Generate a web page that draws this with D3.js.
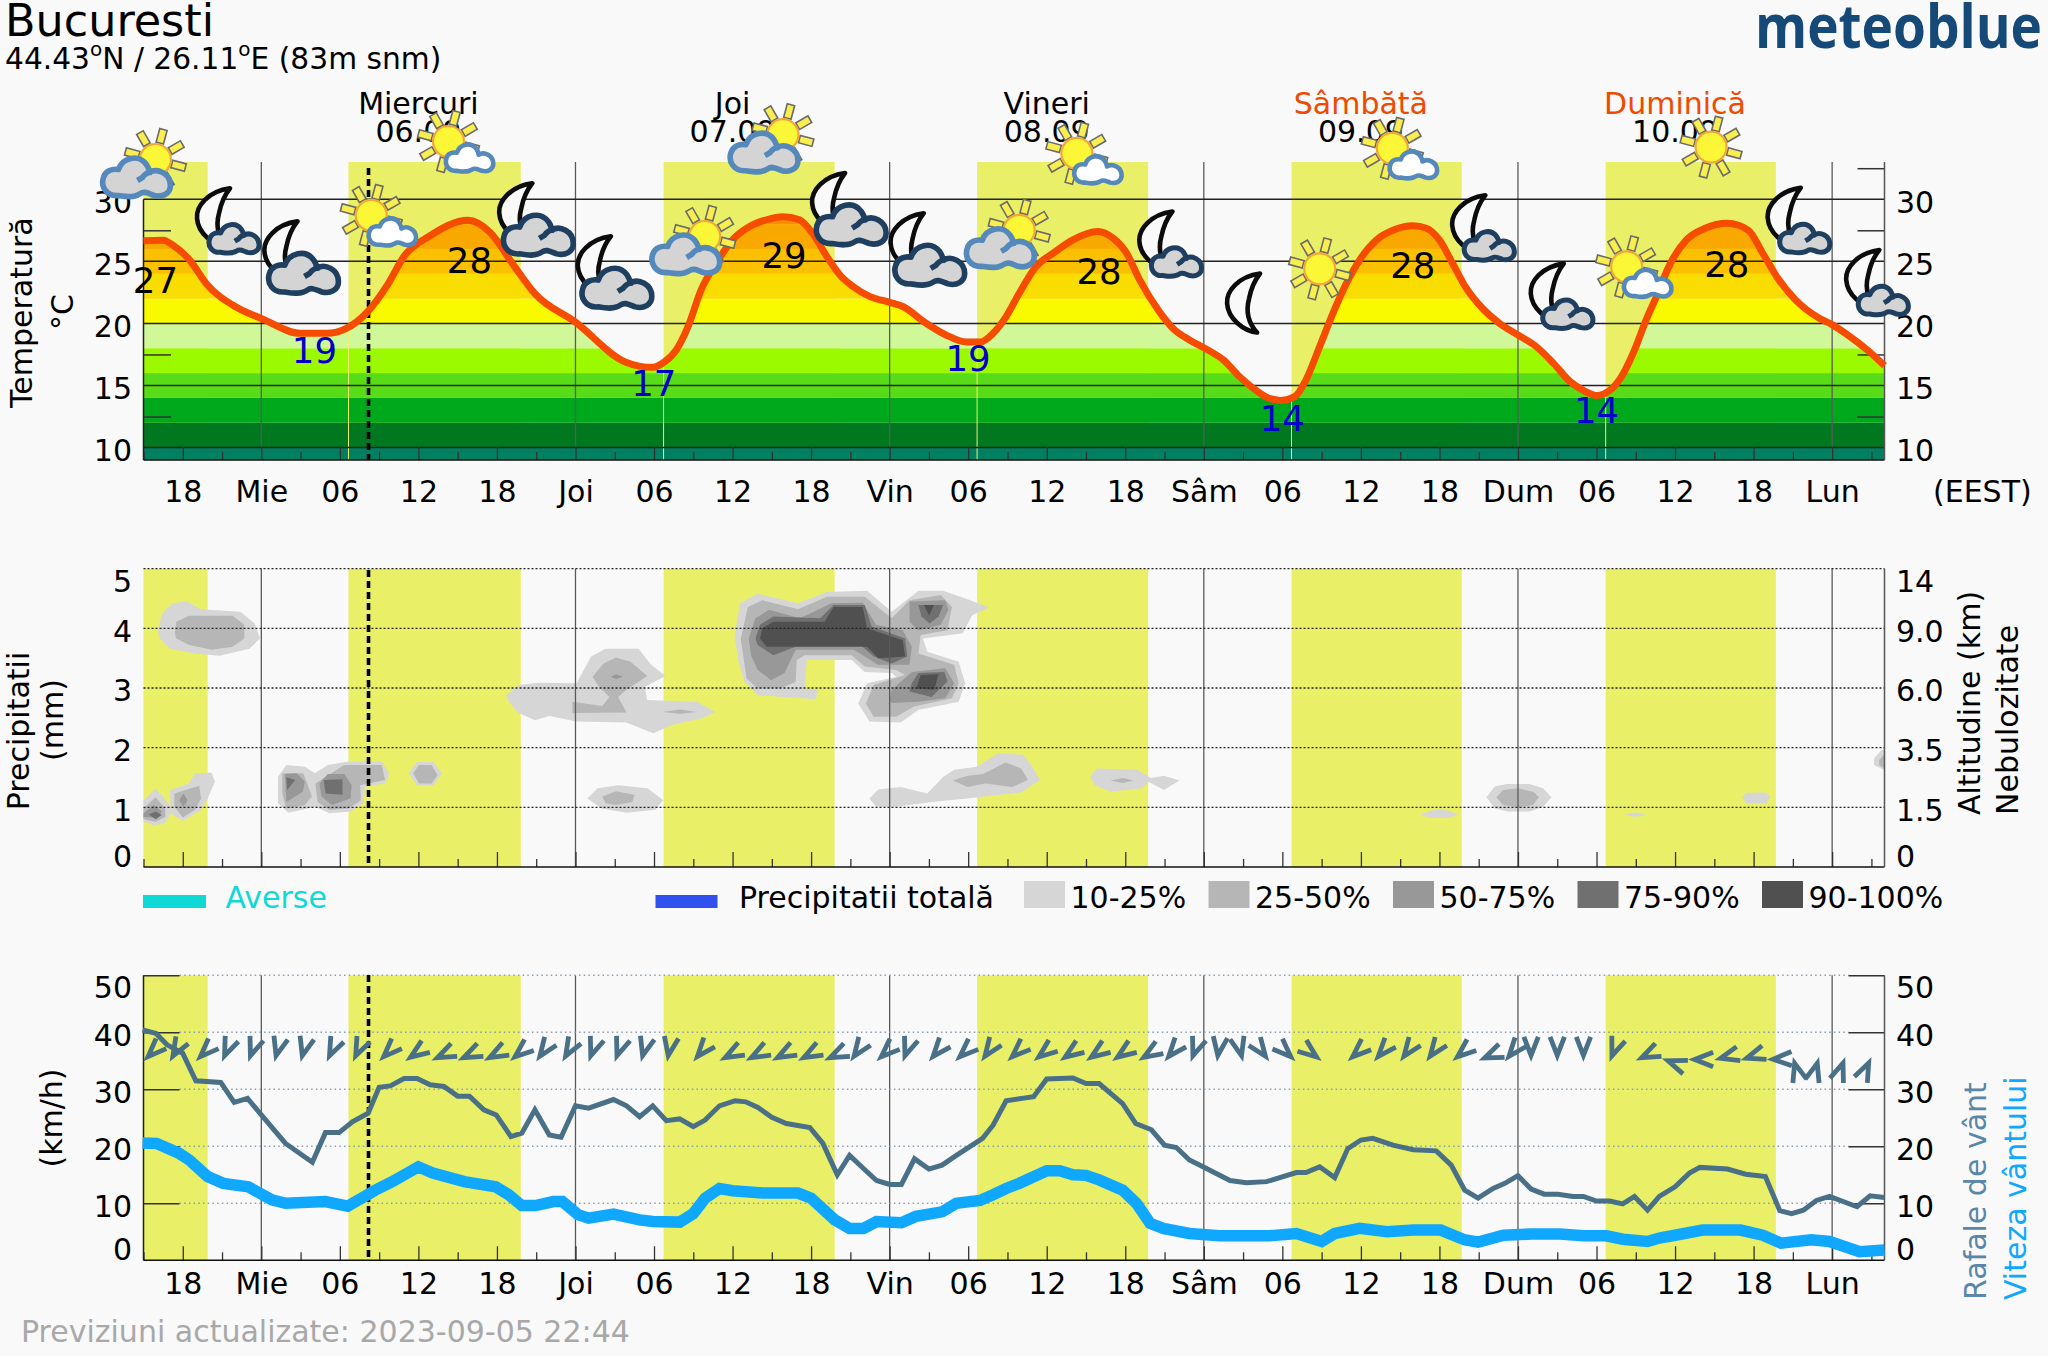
<!DOCTYPE html>
<html><head><meta charset="utf-8">
<script src="https://cdnjs.cloudflare.com/ajax/libs/d3/7.8.5/d3.min.js"></script>
<style>html,body{margin:0;padding:0;background:#f9f9f9}svg{display:block}text{font-family:"DejaVu Sans",sans-serif}</style>
</head><body><div id="c"></div>
<script>
// ---- data (hours counted from Wednesday 00:00) ----
const hourStart=-9, hourEnd=124;
const dayNamesShort=['Mie','Joi','Vin','Sâm','Dum','Lun'];
const dayHeaders=['Miercuri','Joi','Vineri','Sâmbătă','Duminică'];
const dayDates=['06.09','07.09','08.09','09.09','10.09'];
const weekendHeaders=['Sâmbătă','Duminică'];
const sunrises=[-9,6.66,30.73,54.68,78.7,102.7];
const sunsets=[-4.1,19.82,43.8,67.75,91.7,115.7];
const nowHour=8.19;

const tempPoints=[[-9,26.66],[-7.5,26.7],[-6.75,26.3],[-5.47,25.1],[-4.2,23.2],[-1.9,21.3],[0,20.4],[3,19.2],[5,19.2],[6.5,19.6],[8,20.8],[9.7,23.2],[10.9,25.4],[12.8,27],[15.8,28.3],[17.5,27.3],[19.2,24.8],[20.9,22.4],[24,20.1],[27.8,16.9],[29.9,16.46],[30.8,16.9],[31.7,17.86],[32.6,19.74],[33.6,22.7],[34.75,24.85],[36,26.73],[37.3,27.8],[38.6,28.35],[39.85,28.6],[41.1,28.35],[42.1,27.27],[43.2,25.4],[44.2,23.9],[45.2,22.97],[46.5,22.16],[48,21.7],[49,21.36],[50.8,20],[52.3,19.07],[53.85,18.5],[54.9,18.5],[55.9,19.2],[56.9,20.55],[57.9,22.43],[59.2,24.6],[60.5,25.66],[62,26.73],[63.9,27.4],[65.06,26.87],[66.1,25.66],[67.1,23.5],[68.6,20.95],[69.65,19.6],[70.9,18.67],[72.07,18],[73.5,17.05],[74.74,15.7],[76,14.6],[77,13.96],[77.9,13.8],[78.95,14.1],[79.8,15.44],[80.85,18.13],[81.87,20.82],[82.9,23.24],[83.9,25.1],[85.2,26.73],[86.45,27.5],[88,27.86],[89,27.67],[90,26.73],[91,24.85],[92.05,22.84],[93.3,21.2],[94.6,20],[96,19.07],[97.4,18.13],[98.7,16.8],[100,15.3],[101,14.6],[102,14.2],[103,14.6],[103.9,15.7],[104.8,17.6],[105.8,20.3],[106.8,22.7],[107.4,24.3],[108.85,26.7],[110.3,27.66],[112,28.06],[113.6,27.5],[114.7,25.65],[115.77,23.76],[117.2,21.9],[119.05,20.4],[120,19.9],[121.2,19.06],[122.7,17.85],[124,16.6]];
const maxLabels=[[-8.09,22.47,'27'],[15.9,24.03,'28'],[39.93,24.43,'29'],[64,23.17,'28'],[87.96,23.63,'28'],[111.95,23.76,'28']];
const minLabels=[[4.06,16.83,'19'],[29.98,14.13,'17'],[53.99,16.18,'19'],[78,11.3,'14'],[102,11.98,'14']];
const tempBandEdges=[9,10,12,14,16,18,20,22,24,26,28,33];
const tempBandColors=['#008060','#007820','#00a81c','#58dc18','#9cfa00','#d0f898','#f9f900','#f9dc00','#fbc000','#f9a800','#f79000'];
const tempTicks=[10,15,20,25,30];
const tempMinor=[12.5,17.5,27.5];
const tempMinorRight=[12.5,17.5,27.5,32.5];

const icons=[['sunBig',-8.09,33.2],['moonSmall',-3.69,28.47],['moonBig',1.46,25.8],['sunSmall',8.4,28.7],['sunSmall',14.3,34.65],['moonBig',19.4,28.87],['moonBig',25.4,24.6],['sunBig',33.87,27],['sunBig',39.85,35.2],['moonBig',43.3,29.7],['moonBig',49.3,26.45],['sunBig',57.9,27.5],['sunSmall',62.3,33.7],['moonSmall',68.3,26.6],['moon',75,21.6],['sun',80.85,24.4],['sunSmall',86.4,34.1],['moonSmall',92.2,27.9],['moonSmall',98.2,22.4],['sunSmall',104.3,24.56],['sun',110.75,34.2],['moonSmall',116.3,28.5],['moonSmall',122.3,23.5]];

// cloud cover contours: [hour, left-axis level]
const cloud10=[
[[-7.9,3.97],[-7.6,4.25],[-6.8,4.42],[-5.7,4.45],[-4.6,4.32],[-1.6,4.28],[-0.5,4.08],[-0.1,3.83],[-0.9,3.66],[-3.2,3.54],[-5.1,3.58],[-7,3.66],[-7.75,3.83]],
[[-9,1.12],[-8.07,1.32],[-7.1,1.07],[-6.9,.9],[-7.4,.73],[-8.2,.7],[-9,.76]],
[[-6.96,1.29],[-5.54,1.4],[-5.06,1.57],[-3.8,1.58],[-3.54,1.43],[-4.1,1.15],[-4.6,.96],[-6,.77],[-6.96,.9]],
[[1.27,1.51],[1.91,1.71],[3.33,1.68],[4.1,1.57],[5.08,1.71],[6.66,1.77],[9.2,1.77],[9.77,1.57],[9.5,1.4],[7.93,1.35],[7.77,1.07],[6.82,.93],[5.2,.9],[4.13,1.01],[2.07,.91],[1.27,1.07]],
[[11.25,1.57],[11.9,1.76],[13.15,1.76],[13.8,1.57],[13.15,1.37],[11.9,1.37]],
[[18.7,2.88],[19.65,3.05],[21.23,3.09],[24.08,3.08],[25.19,3.53],[26.3,3.66],[28.83,3.66],[29.78,3.39],[30.89,3.2],[29.3,3.02],[29.47,2.8],[33.27,2.77],[34.7,2.6],[33.6,2.49],[31.37,2.38],[29.94,2.24],[27.88,2.42],[24.08,2.44],[22.02,2.53],[20.9,2.46],[19.65,2.58],[19,2.74]],
[[24.9,1.15],[25.7,1.32],[27.25,1.37],[29.5,1.32],[30.7,1.12],[30.1,.96],[27.9,.91],[26,.98]],
[[36.15,3.86],[36.56,4.42],[37.92,4.58],[41,4.42],[43.2,4.61],[46.28,4.63],[48.16,4.28],[50.2,4.63],[52.08,4.63],[53.95,4.49],[55.59,4.35],[54.3,4.22],[53.6,3.92],[50.54,3.83],[50.88,3.61],[53.27,3.44],[53.78,3.08],[53.27,2.77],[50.2,2.63],[48.84,2.42],[46.45,2.44],[45.6,2.74],[46.28,3.08],[48.5,3.19],[48.16,3.25],[46.1,3.27],[45.1,3.47],[41.68,3.47],[41.5,2.99],[42.53,2.97],[42.36,2.81],[37.92,2.88],[36.9,3.11],[36.49,3.41]],
[[46.45,1.15],[47.13,1.3],[48.84,1.34],[50.88,1.23],[52.08,1.51],[52.93,1.63],[54.64,1.68],[56.34,1.91],[58.2,1.88],[58.9,1.68],[59.48,1.46],[58.05,1.25],[53.95,1.15],[51.2,1.09],[48.5,1.01],[46.96,1.01]],
[[63.33,1.51],[63.85,1.65],[66.91,1.63],[67.94,1.49],[68.96,1.53],[70.15,1.45],[68.96,1.29],[67.77,1.43],[67.26,1.32],[64.87,1.26],[63.67,1.37]],
[[88.55,.88],[89.26,.94],[90.02,.97],[90.79,.94],[91.42,.87],[90.66,.82],[89.26,.82]],
[[93.59,1.17],[94.23,1.35],[95.12,1.39],[96.9,1.39],[97.92,1.32],[98.55,1.17],[97.92,1.01],[96.9,.93],[95.24,.93],[94.23,.98]],
[[104.16,.876],[104.97,.916],[105.76,.876],[104.97,.84]],
[[113.12,1.17],[113.45,1.245],[114.98,1.25],[115.28,1.17],[114.98,1.067],[113.45,1.067]],
[[123.2,1.82],[123.76,1.96],[124,1.96],[124,1.62],[123.2,1.71]]
];
const cloud25=[
[[-6.6,3.92],[-6.5,4.11],[-5.5,4.21],[-2.2,4.21],[-1.3,4.06],[-1.3,3.83],[-2.2,3.69],[-3.8,3.64],[-5.5,3.72],[-6.5,3.83]],
[[-9,.98],[-8.07,1.17],[-7.34,.98],[-7.34,.84],[-8.07,.76],[-9,.8]],
[[-6.64,1.23],[-4.75,1.36],[-4.6,1.15],[-5.06,.96],[-6,.83],[-6.64,1.01]],
[[1.6,1.57],[3.2,1.57],[3.87,1.18],[3.33,1.04],[1.91,.98],[1.6,1.23]],
[[4.13,1.4],[6.34,1.71],[9.2,1.71],[9.45,1.46],[7.55,1.37],[7.61,1.12],[6.66,.98],[5.2,.96],[4.3,1.09]],
[[11.6,1.57],[12.05,1.71],[13,1.71],[13.47,1.54],[13,1.4],[12.05,1.4]],
[[25.3,3.19],[26.14,3.41],[27.1,3.51],[28.2,3.44],[29.5,3.2],[27.9,2.97],[27.25,2.85],[27.9,2.59],[23.76,2.58],[23.76,2.77],[26.05,2.7],[26.6,2.85],[25.8,3.02]],
[[30.6,2.6],[32,2.64],[33.27,2.6],[32,2.57]],
[[26.05,1.18],[27.1,1.27],[28.5,1.21],[28.35,1.09],[27.1,1.04],[26.3,1.07]],
[[36.63,3.83],[37.17,4.36],[38.26,4.47],[41,4.32],[43.2,4.53],[46.1,4.53],[48.16,4.17],[49.52,4.47],[51.9,4.56],[52.76,4.36],[52.42,3.97],[50.37,3.89],[50.2,3.58],[52.93,3.39],[53.27,3.08],[52.76,2.83],[49.86,2.69],[48.5,2.52],[46.79,2.52],[46.18,2.74],[46.79,3.05],[49.18,3.22],[48.5,3.3],[46.1,3.36],[45.09,3.55],[41.5,3.55],[40.9,3.47],[40.82,3.1],[39.63,2.99],[37.92,2.99],[37.07,3.16],[36.9,3.41]],
[[52.83,1.45],[53.95,1.53],[55.15,1.56],[56.85,1.75],[58.05,1.65],[58.56,1.46],[57.37,1.34],[55.32,1.4],[53.95,1.34]],
[[64.87,1.45],[65.82,1.49],[66.64,1.45],[65.82,1.41]],
[[94.35,1.17],[94.86,1.29],[96,1.32],[97.15,1.26],[97.6,1.17],[97.15,1.04],[96,1],[94.86,1.04]],
[[123.6,1.79],[124,1.9],[124,1.65],[123.6,1.71]]
];
const cloud50=[
[[-9,.9],[-8.2,1.04],[-7.6,.93],[-7.9,.82],[-9,.84]],
[[-5.95,1.23],[-5.63,1.12],[-5.95,1.01],[-6.27,1.12]],
[[1.81,1.56],[2.7,1.57],[3.33,1.43],[3.17,1.26],[1.91,1.09]],
[[4.44,1.4],[5.08,1.56],[6.34,1.56],[6.9,1.37],[6.82,1.15],[5.4,1.04],[4.6,1.18]],
[[26.7,3.19],[27.1,3.23],[27.63,3.19],[27.1,3.15]],
[[37.24,3.83],[37.75,4.17],[38.78,4.31],[41.16,4.17],[43.55,4.42],[45.94,4.43],[46.96,4.06],[49,3.97],[49.69,3.69],[49.52,3.39],[47.13,3.39],[45.26,3.64],[40.82,3.64],[39.97,3.25],[38.95,3.13],[37.92,3.3],[37.41,3.55]],
[[49.52,4.45],[52.25,4.47],[52.5,4.31],[51.9,4.06],[50.2,3.97],[49.52,4.11]],
[[48,2.8],[48.16,2.97],[49.69,3.27],[52.25,3.33],[52.93,3.08],[52.25,2.83],[50.2,2.77],[48.16,2.75]]
];
const cloud75=[
[[-8.6,.88],[-8.07,.93],[-7.6,.87],[-8.07,.8]],
[[1.91,1.51],[2.6,1.46],[1.97,1.29]],
[[4.76,1.46],[6.2,1.47],[6.2,1.21],[4.92,1.23]],
[[37.75,3.83],[38.1,4.06],[39.12,4.2],[42.7,4.17],[43.72,4.39],[46.1,4.39],[46.62,4.03],[49.18,3.83],[49.35,3.53],[48.16,3.41],[46.79,3.53],[45.77,3.72],[41.16,3.72],[39.12,3.55],[37.92,3.72]],
[[50.2,4.39],[52.08,4.39],[51.74,4.2],[51.05,4.08],[50.44,4.2]],
[[49.69,3.08],[50.2,3.25],[52.18,3.27],[52.42,3.11],[51.2,2.85],[49.52,2.94]]
];
const cloud90=[
[[38.1,3.83],[38.26,4],[39.12,4.11],[43.04,4.11],[43.72,4.36],[45.94,4.36],[46.28,4],[49,3.8],[49.18,3.53],[47.13,3.5],[46.28,3.69],[38.6,3.69]],
[[50.61,4.39],[51.4,4.39],[51.02,4.22]],
[[50.37,3.22],[51.74,3.23],[51.4,2.97],[50.03,2.99]]
];
const cloudColors=['#d6d6d6','#b6b6b6','#989898','#707070','#505050'];
const legendPercent=['10-25%','25-50%','50-75%','75-90%','90-100%'];
const precipTicks=[0,1,2,3,4,5];
const altitudeLabels=['0','1.5','3.5','6.0','9.0','14'];

const gustPoints=[[-9.07,40.4],[-8.04,39.8],[-7.2,37.8],[-6,36.3],[-5,31.5],[-3.1,31.2],[-2.07,27.7],[-1.05,28.4],[0,25.5],[1.85,20.5],[3.9,17.2],[4.9,22.4],[5.94,22.4],[6.96,24.3],[8.16,25.8],[9,30.35],[9.86,30.6],[10.9,31.9],[11.9,31.9],[12.9,30.8],[13.95,30.5],[15,28.8],[15.9,28.8],[17,26.4],[17.95,25.5],[19.07,21.7],[19.9,22.3],[20.9,26.4],[22,22],[22.9,21.6],[24,27.1],[25,26.7],[26.9,28.2],[27.9,27.1],[28.9,25.2],[29.9,27.1],[30.94,24.5],[31.96,24.8],[33,23.45],[33.9,24.6],[35,27.1],[36.2,28],[37,27.8],[37.94,26.8],[39,25.1],[40.1,24],[41.9,23.3],[42.9,20.5],[44,15],[44.94,18.4],[46,16.1],[47,14],[48,13.3],[48.9,13.3],[49.9,17.8],[51,16],[52,16.7],[53.1,18.4],[55.1,21.4],[55.9,23.7],[56.9,28],[59,28.7],[60,31.8],[62,32],[63,31],[64,31],[65.8,27.5],[66.8,24],[68,22.9],[69,20.2],[69.9,19.8],[70.9,17.6],[71.94,16.4],[74,14],[75.25,13.6],[76.8,13.8],[79.07,15.4],[79.8,15.4],[80.85,16.4],[82,14.5],[83,19.6],[84,21.1],[84.9,21.4],[86.45,20.2],[88,19.4],[89.76,19.2],[90.9,16.7],[91.93,12.3],[92.95,10.9],[94.1,12.6],[95,13.5],[96,14.85],[97,12.5],[98,11.6],[99.06,11.6],[100.2,11.2],[101,11.2],[102,10.4],[103,10.4],[104,9.9],[104.9,11.2],[105.9,8.8],[106.8,11.2],[108,12.9],[109.1,15.3],[109.9,16.3],[112,16],[113.4,15.1],[114.9,14.7],[116,8.7],[116.9,8.2],[117.8,8.8],[118.8,10.5],[119.8,11.2],[121.9,9.4],[122.9,11.3],[124,11]];
const windPoints=[[-9.07,20.6],[-8,20.5],[-6.3,18.8],[-5.5,17.6],[-4.1,14.7],[-2.9,13.5],[-1,12.9],[.8,10.6],[1.85,10],[4.9,10.3],[6.6,9.5],[8.7,12.3],[10,13.8],[12,16.4],[13.1,15.3],[15.5,13.8],[17.9,12.9],[18.9,11.5],[19.9,9.6],[20.95,9.6],[22.3,10.3],[23,10.3],[24.2,8],[25,7.4],[26.9,8.1],[28.9,7.1],[29.9,6.8],[31.96,6.7],[33,8.2],[33.9,10.9],[35,12.6],[36,12.2],[38.3,11.8],[41,11.8],[42,10.9],[43.8,7.1],[44.94,5.6],[46,5.6],[47,6.8],[48.9,6.6],[50,7.7],[52,8.5],[53.1,10],[54.9,10.5],[55.9,11.5],[56.9,12.6],[57.9,13.5],[60,15.7],[61,15.7],[62,15],[63,14.9],[64,14.1],[65.8,12.3],[66.85,10],[67.9,6.5],[68.9,5.6],[70.9,4.7],[73.2,4.3],[77,4.3],[79.07,4.7],[81,3.3],[82,4.7],[83.9,5.6],[86,5],[88,5.3],[90.1,5.3],[91.9,3.6],[92.95,3.2],[94.9,4.4],[97,4.6],[99.2,4.6],[101,4.3],[102.75,4.3],[104,3.7],[105.9,3.3],[106.8,3.9],[108,4.4],[110.1,5.3],[113,5.3],[114.7,4.4],[116.1,3],[118.4,3.6],[119.8,3.3],[122.1,1.5],[124,1.8]];
// wind direction (bearing, degrees) every two hours from hour -9
const windDirections=[45,30,45,23,20,15,15,25,25,45,55,65,65,62,50,35,30,20,20,15,10,40,62,62,62,62,65,35,47,20,40,47,35,47,52,55,55,55,58,40,20,8,346,324,314,308,48,41,36,36,50,67,39,0,0,0,21,65,110,90,75,72,88,164,196,200,205];
const windLevel=34.8;
const windTicks=[0,10,20,30,40,50];

// ---- layout ----
const W=2048,H=1356,BG='#f9f9f9',DAY='#e9f067',FS=30,GREY='#5a5a5a';
const x=d3.scaleLinear([hourStart,hourEnd],[143.5,1884.5]);
const yT=d3.scaleLinear([9,33],[460,162]);
const yP=d3.scaleLinear([0,5],[867,568.7]);
const yW=d3.scaleLinear([0,50],[1260.3,975.3]);
const L=x(hourStart),R=x(hourEnd);
const svg=d3.select('#c').append('svg').attr('width',W).attr('height',H).attr('viewBox',`0 0 ${W} ${H}`);
svg.append('rect').attr('width',W).attr('height',H).attr('fill',BG);
const defs=svg.append('defs');
const hours=d3.range(-9,hourEnd+1,3);
const majorHours=hours.filter(h=>((h%6)+6)%6===0);
const midnight=hours.filter(h=>h>=0&&h%24===0);
const tickName=h=>h%24===0?dayNamesShort[h/24]:String(((h%24)+24)%24).padStart(2,'0');

function text(s,px,py,o={}){
  const t=svg.append('text').attr('x',px).attr('y',py).attr('font-size',o.size||FS).attr('fill',o.fill||'#000').attr('text-anchor',o.anchor||'start').text(s);
  if(o.rot!==undefined)t.attr('transform',`rotate(${o.rot} ${px} ${py})`);
  if(o.weight)t.attr('font-weight',o.weight);
  if(o.family)t.style('font-family',o.family);
  if(o.len)t.attr('textLength',o.len).attr('lengthAdjust','spacingAndGlyphs');
  return t;
}
function dayRects(yTop,yBot){
  svg.append('g').selectAll('rect').data(d3.zip(sunrises,sunsets)).join('rect')
    .attr('x',d=>x(d[0])).attr('width',d=>x(d[1])-x(d[0])).attr('y',yTop).attr('height',yBot-yTop).attr('fill',DAY);
}
function vGrid(yTop,yBot){
  svg.append('g').selectAll('line').data(midnight).join('line')
    .attr('x1',d=>x(d)).attr('x2',d=>x(d)).attr('y1',yTop).attr('y2',yBot).attr('stroke',GREY).attr('stroke-width',1.3);
}
function timeAxis(yBot,labelPad,majLen){
  const minor=hours.filter(h=>!majorHours.includes(h));
  const g=svg.append('g').attr('transform',`translate(0,${yBot})`);
  g.append('g').call(d3.axisBottom(x).tickValues(minor).tickSize(-8).tickFormat('')).call(a=>a.select('.domain').remove()).selectAll('line').attr('stroke','#333').attr('stroke-width',1.3);
  g.append('g').call(d3.axisBottom(x).tickValues(majorHours).tickSize(-majLen).tickFormat('')).call(a=>a.select('.domain').remove()).selectAll('line').attr('stroke','#333').attr('stroke-width',1.3);
  g.append('line').attr('x1',L).attr('x2',R).attr('stroke','#111').attr('stroke-width',1.6);
  if(labelPad){
    const la=g.append('g').call(d3.axisBottom(x).tickValues(majorHours).tickSize(0).tickFormat(tickName));
    la.select('.domain').remove();
    la.selectAll('text').attr('y',labelPad).attr('dy',0).attr('font-size',FS).attr('fill','#000').style('font-family','"DejaVu Sans",sans-serif');
  }
}
function valueAxis(scale,values,side,labels,top,bot){
  const ax=(side==='left'?d3.axisLeft(scale):d3.axisRight(scale)).tickValues(values).tickSize(0).tickPadding(11.5);
  ax.tickFormat(labels?(d,i)=>labels[i]:d=>String(d));
  const g=svg.append('g').attr('transform',`translate(${side==='left'?L:R},0)`).call(ax);
  g.select('.domain').remove();
  g.selectAll('.tick').attr('transform',d=>{
    let b=scale(d)+13.3;
    if(bot!==undefined)b=Math.min(b,bot);
    if(top!==undefined)b=Math.max(b,top+23);
    return `translate(0,${b})`;
  });
  g.selectAll('text').attr('dy',0).attr('y',0).attr('font-size',FS).attr('fill','#000').style('font-family','"DejaVu Sans",sans-serif');
}
function yTicks(scale,values,side,len,color='#333'){
  const ax=(side==='left'?d3.axisRight(scale):d3.axisLeft(scale)).tickValues(values).tickSize(len).tickFormat('');
  const g=svg.append('g').attr('transform',`translate(${side==='left'?L:R},0)`).call(ax);
  g.select('.domain').remove();
  g.selectAll('line').attr('stroke',color).attr('stroke-width',1.5);
}
function nowLine(yTop,yBot){
  svg.append('line').attr('x1',x(nowHour)).attr('x2',x(nowHour)).attr('y1',yTop).attr('y2',yBot)
    .attr('stroke','#000').attr('stroke-width',3.6).attr('stroke-dasharray','7 4');
}

// ---- header ----
text('Bucuresti',5,36,{size:44.5});
const sub=text('44.43',5,69,{size:29.7});
sub.append('tspan').attr('dy',-13).attr('font-size',20).text('o');
sub.append('tspan').attr('dy',13).text('N / 26.11');
sub.append('tspan').attr('dy',-13).attr('font-size',20).text('o');
sub.append('tspan').attr('dy',13).text('E (83m snm)');
text('meteoblue',1755,47.5,{size:60,fill:'#154a78',weight:700,family:'"Open Sans",sans-serif',len:287});

// ---- temperature panel ----
dayRects(yT(33),yT(9));
const line=d3.line().x(d=>x(d[0])).y(d=>yT(d[1])).curve(d3.curveMonotoneX);
const area=d3.area().x(d=>x(d[0])).y0(yT(9)).y1(d=>yT(d[1])).curve(d3.curveMonotoneX);
defs.append('clipPath').attr('id','under').append('path').attr('d',area(tempPoints));
svg.append('g').attr('clip-path','url(#under)').selectAll('rect').data(tempBandColors).join('rect')
  .attr('x',L).attr('width',R-L).attr('y',(d,i)=>yT(tempBandEdges[i+1])).attr('height',(d,i)=>yT(tempBandEdges[i])-yT(tempBandEdges[i+1])).attr('fill',d=>d);
// sunrise hairlines inside the coloured area
svg.append('g').attr('clip-path','url(#under)').selectAll('line').data(sunrises.slice(1)).join('line')
  .attr('x1',d=>x(d)).attr('x2',d=>x(d)).attr('y1',yT(33)).attr('y2',yT(9)).attr('stroke','#eef070').attr('stroke-width',1);
vGrid(yT(33),yT(9)-14);
svg.append('g').selectAll('line').data(tempTicks).join('line').attr('x1',L).attr('x2',R).attr('y1',d=>yT(d)).attr('y2',d=>yT(d)).attr('stroke','#222').attr('stroke-width',1.5);
timeAxis(yT(9),41.7,13);
yTicks(yT,tempMinor,'left',27.5);
yTicks(yT,tempMinorRight,'right',27);
svg.append('line').attr('x1',L).attr('x2',L).attr('y1',yT(30)).attr('y2',yT(9)).attr('stroke','#222').attr('stroke-width',1.5);
svg.append('line').attr('x1',R).attr('x2',R).attr('y1',yT(33)).attr('y2',yT(9)).attr('stroke','#555').attr('stroke-width',1.5);
nowLine(168,460);
svg.append('path').attr('d',line(tempPoints)).attr('fill','none').attr('stroke','#f54c00').attr('stroke-width',7);
valueAxis(yT,tempTicks,'left');
valueAxis(yT,tempTicks,'right');
text('Temperatură',32,408,{rot:-90});
text('°C',73,312,{rot:-90,anchor:'middle'});
text('(EEST)',1933,501.7);
dayHeaders.forEach((d,i)=>{
  const cx=x(12+24*i);
  text(d,cx,113.5,{anchor:'middle',fill:weekendHeaders.includes(d)?'#f04a00':'#000'});
  text(dayDates[i],cx,142,{anchor:'middle'});
});
maxLabels.forEach(d=>text(d[2],x(d[0]),yT(d[1]),{anchor:'middle',size:35.5}));
minLabels.forEach(d=>text(d[2],x(d[0]),yT(d[1]),{anchor:'middle',size:35.5,fill:'#0000c8'}));

// ---- cloud / precipitation panel ----
dayRects(yP(5),yP(0));
const poly=d3.line().x(d=>x(d[0])).y(d=>yP(d[1])).curve(d3.curveLinearClosed);
[cloud10,cloud25,cloud50,cloud75,cloud90].forEach((set,i)=>{
  svg.append('g').selectAll('path').data(set).join('path').attr('d',poly).attr('fill',cloudColors[i]);
});
vGrid(yP(5),yP(0));
svg.append('g').selectAll('line').data(precipTicks.slice(1)).join('line').attr('x1',L).attr('x2',R).attr('y1',d=>yP(d)).attr('y2',d=>yP(d)).attr('stroke','#222').attr('stroke-width',1.3).attr('stroke-dasharray','2 2');
timeAxis(yP(0),0,15);
svg.append('line').attr('x1',R).attr('x2',R).attr('y1',yP(5)).attr('y2',yP(0)).attr('stroke','#555').attr('stroke-width',1.5);
nowLine(570,867);
valueAxis(yP,precipTicks,'left',null,yP(5),yP(0));
valueAxis(yP,precipTicks,'right',altitudeLabels,yP(5),yP(0));
text('Precipitatii',29,731,{rot:-90,anchor:'middle'});
text('(mm)',63,720,{rot:-90,anchor:'middle'});
text('Altitudine (km)',1980,815,{rot:-90});
text('Nebulozitate',2018,815,{rot:-90});
// legend
svg.append('rect').attr('x',143).attr('y',895).attr('width',63).attr('height',13).attr('fill','#10d8d4');
text('Averse',225.5,908,{fill:'#10d8d4'});
svg.append('rect').attr('x',655.5).attr('y',895).attr('width',62).attr('height',13).attr('fill','#3050f0');
text('Precipitatii totală',739,908);
legendPercent.forEach((s,i)=>{
  const lx=1024+184.5*i;
  svg.append('rect').attr('x',lx).attr('y',881).attr('width',41).attr('height',27).attr('fill',cloudColors[i]);
  text(s,lx+46.5,908);
});

// ---- wind panel ----
dayRects(yW(50),yW(0));
vGrid(yW(50),yW(0));
svg.append('g').selectAll('line').data(windTicks.slice(1)).join('line').attr('x1',L+36).attr('x2',R-36).attr('y1',d=>yW(d)).attr('y2',d=>yW(d)).attr('stroke','#8a9fb4').attr('stroke-width',1.4).attr('stroke-dasharray','1.5 3.2');
timeAxis(yW(0),34,14);
yTicks(yW,windTicks.slice(1),'left',36);
yTicks(yW,windTicks.slice(1),'right',36);
svg.append('line').attr('x1',L).attr('x2',L).attr('y1',yW(50)).attr('y2',yW(0)).attr('stroke','#222').attr('stroke-width',1.5);
svg.append('line').attr('x1',R).attr('x2',R).attr('y1',yW(50)).attr('y2',yW(0)).attr('stroke','#555').attr('stroke-width',1.5);
nowLine(975,1260);
const wl=d3.line().x(d=>x(d[0])).y(d=>yW(d[1]));
svg.append('path').attr('d',wl(gustPoints)).attr('fill','none').attr('stroke','#4a7088').attr('stroke-width',5);
svg.append('path').attr('d',wl(windPoints)).attr('fill','none').attr('stroke','#10a8ff').attr('stroke-width',11.5);
svg.append('g').selectAll('path').data(windDirections).join('path')
  .attr('transform',(d,i)=>{
    const r=d*Math.PI/180;
    return `translate(${x(hourStart+2*i)},${yW(windLevel)+2.5*Math.cos(r)-2.5}) rotate(${d})`;
  })
  .attr('d','M-7.2-25L0-6.5L7.2-25')
  .attr('fill','none').attr('stroke','#4a7088').attr('stroke-width',4.8).attr('stroke-linejoin','miter').attr('stroke-miterlimit',6);
valueAxis(yW,windTicks,'left',null,yW(50),yW(0));
valueAxis(yW,windTicks,'right',null,yW(50),yW(0));
text('(km/h)',62,1118,{rot:-90,anchor:'middle'});
text('Rafale de vânt',1986,1300,{rot:-90,fill:'#5a86a8'});
text('Viteza vântului',2026,1300,{rot:-90,fill:'#10a8ff'});
text('Previziuni actualizate: 2023-09-05 22:44',21,1341.7,{fill:'#a8a8a8'});

// ---- weather symbols ----
const cloudPath='M-18 19C-30 20-36 10-33 1C-31-6-24-8-18-7C-14-19 2-23 10-12C12-9 13-6 13-4C21-9 34-3 34 9C34 17 26 21 18 19C12 17 8 14 4 17C-3 22-12 20-18 19Z';
const curlPath='M1 4L6 1C9-3 12-5 16-4';
function drawCloud(g,dx,dy,k,fill,stroke,sw,curl){
  const c=g.append('g').attr('transform',`translate(${dx},${dy}) scale(${k})`);
  c.append('path').attr('d',cloudPath).attr('fill',fill).attr('stroke',stroke).attr('stroke-width',sw/k).attr('stroke-linejoin','round');
  if(curl)c.append('path').attr('d',curlPath).attr('fill','none').attr('stroke',stroke).attr('stroke-width',sw/k);
}
function drawSun(g){
  d3.range(8).forEach(i=>{
    g.append('rect').attr('x',-3.8).attr('y',-31).attr('width',7.6).attr('height',14)
     .attr('transform',`rotate(${15+45*i})`).attr('fill','#f8ee50').attr('stroke','#6a6a6a').attr('stroke-width',1.6);
  });
  g.append('circle').attr('r',15.5).attr('fill','#fbf736').attr('stroke','#f2a838').attr('stroke-width',2.2);
}
function drawMoon(g){
  g.append('path').attr('d','M17-30C-5-27-17-12-16 0C-15 15 0 27 14 29C4 18 3 6 6-5C8-15 13-25 17-30Z')
   .attr('fill',BG).attr('stroke','#0c0c0c').attr('stroke-width',4.6).attr('stroke-linejoin','round');
}
const iconLayer=svg.append('g');
icons.forEach(([kind,h,t])=>{
  const g=iconLayer.append('g').attr('transform',`translate(${x(h)},${yT(t)})`);
  if(kind.startsWith('sun'))drawSun(g);
  if(kind.startsWith('moon'))drawMoon(g);
  if(kind==='sunBig')drawCloud(g,-19,17,1,'#d4d4d4','#5588bb',5.6,true);
  if(kind==='sunSmall')drawCloud(g,21,16,.7,'#ffffff','#5588bb',4.6,false);
  if(kind==='moonBig')drawCloud(g,23,21,1.03,'#d4d4d4','#1f3f60',5.6,true);
  if(kind==='moonSmall')drawCloud(g,21,20,.74,'#d4d4d4','#1f3f60',5,true);
});
</script></body></html>
